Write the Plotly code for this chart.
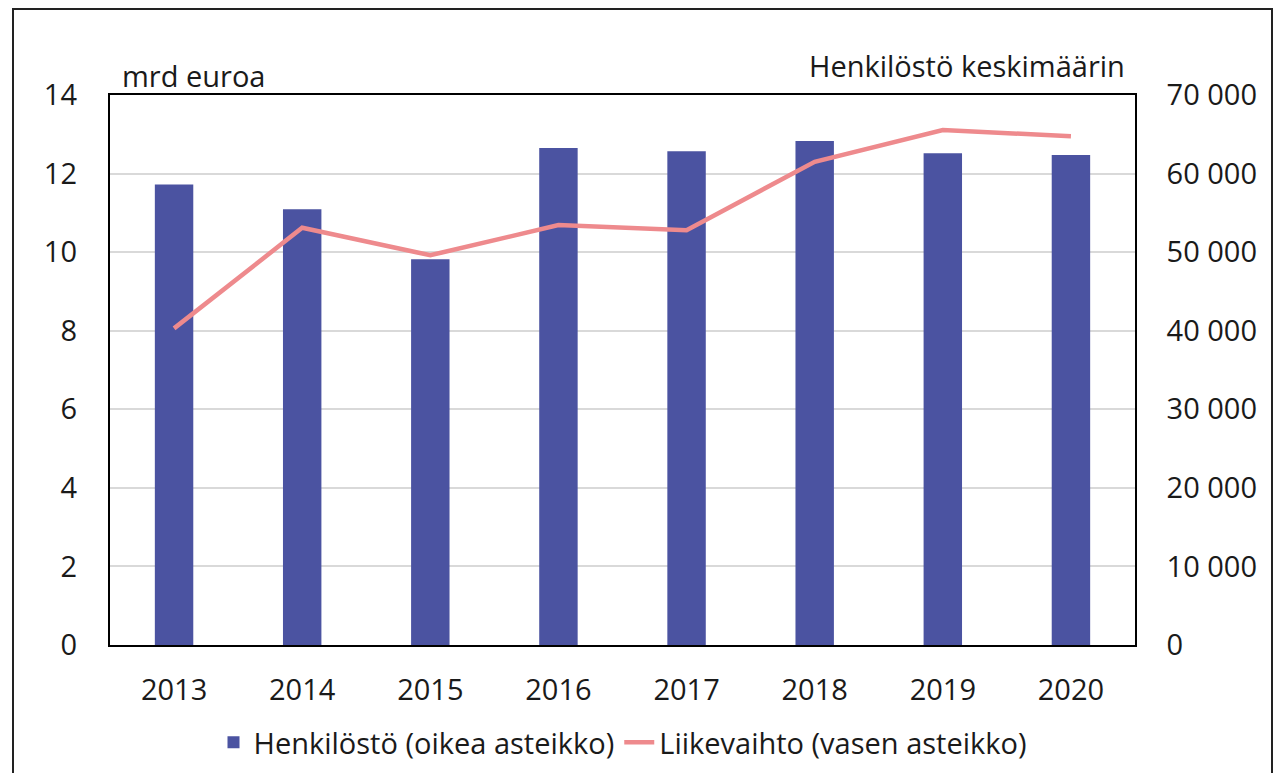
import plotly.graph_objects as go

# data
years = ["2013", "2014", "2015", "2016", "2017", "2018", "2019", "2020"]
henkilosto = [58600, 55450, 49100, 63250, 62850, 64150, 62600, 62350]   # right axis
liikevaihto = [8.06, 10.62, 9.92, 10.69, 10.56, 12.30, 13.11, 12.95]    # left axis, mrd euroa

W, H = 1284, 773
OFF = 8  # page body margin of the written html
L, R, T, B = 110 - OFF, 1135 - OFF, 95 - OFF, 645 - OFF  # plot area in figure pixels

FONT = "Open Sans"
FS = 29
BAR_COLOR = "#4B53A1"
LINE_COLOR = "#EE8A8D"

fig = go.Figure()

# bars on the right-hand scale (drawn underneath)
fig.add_trace(go.Bar(
    x=years, y=henkilosto, name="Henkilöstö (oikea asteikko)",
    marker=dict(color=BAR_COLOR, line=dict(width=0)),
    yaxis="y"
))

# line on the left-hand scale (overlaying axis -> drawn on top)
fig.add_trace(go.Scatter(
    x=years, y=liikevaihto, name="Liikevaihto (vasen asteikko)",
    mode="lines", line=dict(color=LINE_COLOR, width=4.5),
    yaxis="y2"
))


def px_x(p):
    return (p - OFF - L) / (R - L)


def px_y(p):
    return (B - (p - OFF)) / (B - T)


fig.update_layout(
    width=W, height=H,
    margin=dict(l=L, r=W - R, t=T, b=H - B),
    paper_bgcolor="white", plot_bgcolor="white",
    font=dict(family=FONT, size=FS, color="#1a1a1a"),
    separators=", ",
    bargap=0.7,
    showlegend=True,
    legend=dict(orientation="h", x=0.5, xanchor="center", y=px_y(717), yanchor="top",
                font=dict(size=FS), itemwidth=30, traceorder="normal"),
    xaxis=dict(showline=True, linecolor="black", linewidth=1.5, mirror=True,
               showgrid=False, ticks="", ticklabelstandoff=18, automargin=False),
    yaxis=dict(side="right", range=[0, 70000], dtick=10000, tickformat=",d",
               showgrid=True, gridcolor="#D9D9D9", gridwidth=1.5,
               showline=True, linecolor="black", linewidth=1.5, mirror=True,
               ticks="", ticklabelstandoff=24, zeroline=False, automargin=False),
    yaxis2=dict(side="left", overlaying="y", range=[0, 14], dtick=2,
                showgrid=False, showline=False, ticks="", ticklabelstandoff=32,
                zeroline=False, automargin=False),
    annotations=[
        dict(text="mrd euroa", xref="paper", yref="paper", x=px_x(120), y=px_y(75),
             xanchor="left", yanchor="middle", showarrow=False, font=dict(size=FS)),
        dict(text="Henkilöstö keskimäärin", xref="paper", yref="paper", x=px_x(1127), y=px_y(65),
             xanchor="right", yanchor="middle", showarrow=False, font=dict(size=FS)),
    ],
    shapes=[
        dict(type="rect", xref="paper", yref="paper",
             x0=px_x(13), x1=px_x(1272), y0=px_y(800), y1=px_y(9),
             line=dict(color="#222", width=2), fillcolor="rgba(0,0,0,0)", layer="above"),
    ],
)

fig.write_html("out.html")
